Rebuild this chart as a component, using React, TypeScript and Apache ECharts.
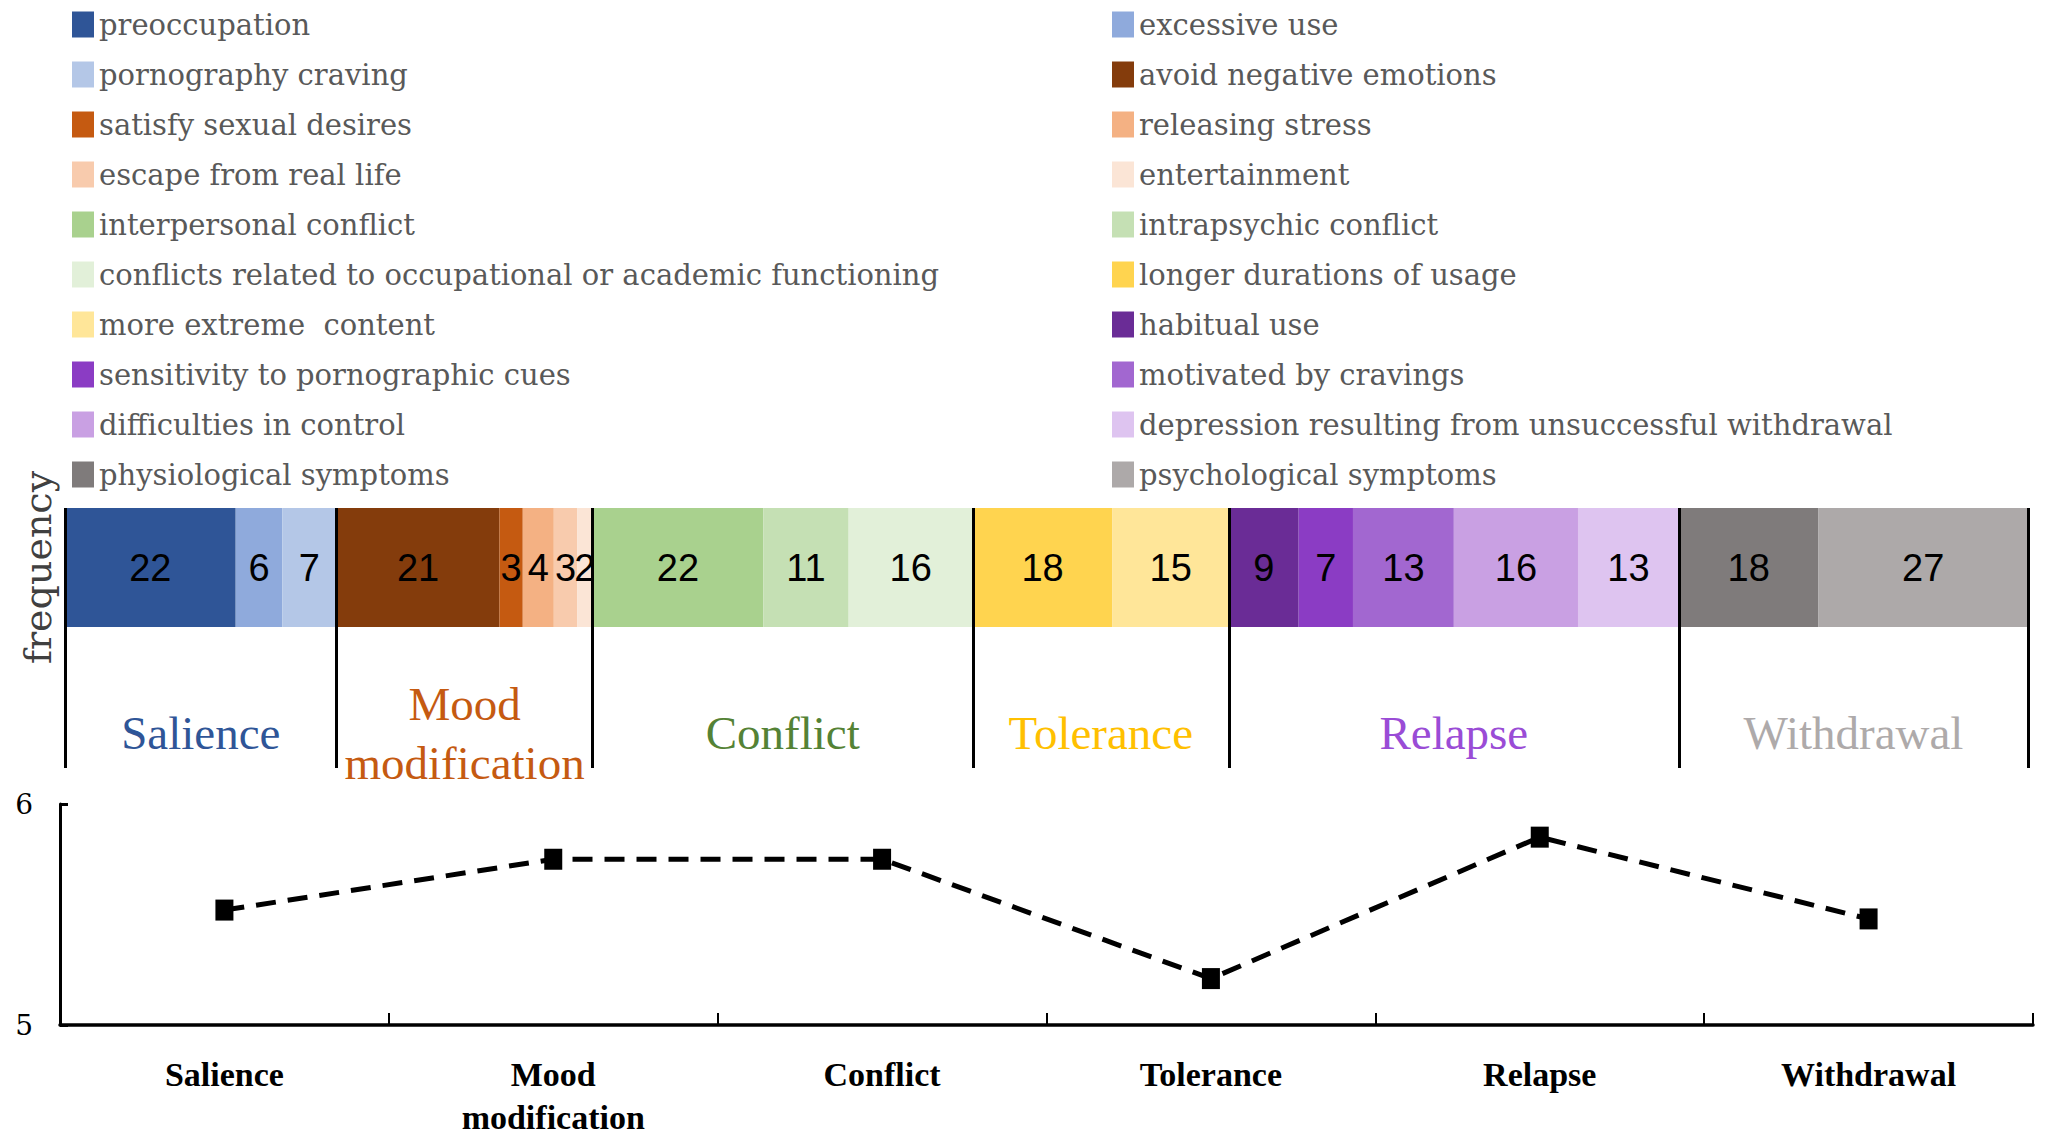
import React, { useEffect, useRef } from 'react'
import * as echarts from 'echarts'

// items in bar order (legend reads row by row, left column then right column)
const itemNames = [
  'preoccupation',
  'excessive use',
  'pornography craving',
  'avoid negative emotions',
  'satisfy sexual desires',
  'releasing stress',
  'escape from real life',
  'entertainment',
  'interpersonal conflict',
  'intrapsychic conflict',
  'conflicts related to occupational or academic functioning',
  'longer durations of usage',
  'more extreme  content',
  'habitual use',
  'sensitivity to pornographic cues',
  'motivated by cravings',
  'difficulties in control',
  'depression resulting from unsuccessful withdrawal',
  'physiological symptoms',
  'psychological symptoms',
]
const itemValues = [22, 6, 7, 21, 3, 4, 3, 2, 22, 11, 16, 18, 15, 9, 7, 13, 16, 13, 18, 27]
const itemColors = [
  '#2F5597', '#8FAADC', '#B4C7E7',
  '#843C0C', '#C55A11', '#F4B183', '#F8CBAD', '#FBE5D6',
  '#A9D18E', '#C5E0B4', '#E2F0D9',
  '#FFD44F', '#FFE699',
  '#6A2C96', '#8B3CC4', '#A267D0', '#C9A0E3', '#DEC4F0',
  '#7F7B7B', '#ADA9A9',
]

const groupNames = ['Salience', 'Mood\nmodification', 'Conflict', 'Tolerance', 'Relapse', 'Withdrawal']
const groupSizes = [3, 5, 3, 2, 5, 2]
const groupColors = ['#2F5597', '#C55A11', '#548235', '#FFC000', '#9A4CD6', '#AEAAAA']

const lineCategories = ['Salience', 'Mood\nmodification', 'Conflict', 'Tolerance', 'Relapse', 'Withdrawal']
const lineValues = [5.52, 5.75, 5.75, 5.21, 5.85, 5.48]

const SERIF = 'DejaVu Serif'
const TIMES = 'Liberation Serif'

const App = () => {
  const chartRef = useRef<HTMLDivElement>(null)

  useEffect(() => {
    if (!chartRef.current) return
    const chart = echarts.init(chartRef.current, null, { renderer: 'svg' })

    const total = itemValues.reduce((a, b) => a + b, 0)
    // group boundaries on the frequency axis
    const bounds: number[] = [0]
    let idx = 0
    groupSizes.forEach((n) => {
      let s = bounds[bounds.length - 1]
      for (let k = 0; k < n; k++) s += itemValues[idx++]
      bounds.push(s)
    })

    const dividerLine = {
      silent: true,
      symbol: 'none',
      label: { show: false },
      lineStyle: { color: '#000', width: 3, type: 'solid' },
      data: bounds.map((v) => ({ xAxis: v })),
    }

    const barSeries = itemNames.map((name, i) => ({
      name,
      type: 'bar',
      stack: 'freq',
      xAxisIndex: 0,
      yAxisIndex: 0,
      barWidth: '100%',
      data: [itemValues[i]],
      itemStyle: { color: itemColors[i] },
      label: {
        show: true,
        position: 'inside',
        color: '#000',
        fontFamily: 'Liberation Sans',
        fontSize: 38,
      },
      markLine: i === itemNames.length - 1 ? dividerLine : undefined,
    }))

    const legendBase = {
      orient: 'vertical',
      top: 10,
      itemWidth: 22,
      itemHeight: 26,
      itemGap: 21,
      icon: 'rect',
      padding: 0,
      selectedMode: false,
      textStyle: { fontFamily: SERIF, fontSize: 29, color: '#595959' },
    }

    const option = {
      animation: false,
      backgroundColor: '#fff',
      legend: [
        { ...legendBase, left: 72, data: itemNames.filter((_, i) => i % 2 === 0) },
        { ...legendBase, left: 1112, data: itemNames.filter((_, i) => i % 2 === 1) },
      ],
      grid: [
        { left: 65, right: 20, top: 508, height: 119 },
        { left: 65, right: 20, top: 627, height: 141 },
        { left: 60, right: 15, top: 804, height: 221 },
      ],
      xAxis: [
        { type: 'value', gridIndex: 0, min: 0, max: total, show: false },
        { type: 'value', gridIndex: 1, min: 0, max: total, show: false },
        {
          type: 'category',
          gridIndex: 2,
          data: lineCategories,
          boundaryGap: true,
          axisLine: { lineStyle: { color: '#000', width: 3.5 } },
          axisTick: { show: true, inside: true, length: 12, lineStyle: { color: '#000', width: 2 } },
          axisLabel: {
            color: '#000',
            fontFamily: TIMES,
            fontWeight: 'bold',
            fontSize: 34,
            lineHeight: 43,
            margin: 28,
          },
        },
      ],
      yAxis: [
        {
          type: 'category',
          gridIndex: 0,
          data: [''],
          axisLine: { show: false },
          axisTick: { show: false },
          axisLabel: { show: false },
          name: 'frequency',
          nameLocation: 'middle',
          nameRotate: 90,
          nameGap: 8,
          nameTextStyle: { fontFamily: SERIF, fontSize: 38, color: '#404040' },
        },
        { type: 'value', gridIndex: 1, min: 0, max: 1, show: false },
        {
          type: 'value',
          gridIndex: 2,
          min: 5,
          max: 6,
          interval: 1,
          splitLine: { show: false },
          axisLine: { show: true, lineStyle: { color: '#000', width: 3 } },
          axisTick: { show: true, inside: true, length: 8, lineStyle: { color: '#000', width: 3 } },
          axisLabel: { color: '#000', fontFamily: SERIF, fontSize: 28, margin: 27 },
        },
      ],
      series: [
        ...barSeries,
        {
          type: 'scatter',
          xAxisIndex: 1,
          yAxisIndex: 1,
          symbolSize: 0,
          silent: true,
          data: [[0, 0]],
          markLine: dividerLine,
          markArea: {
            silent: true,
            itemStyle: { color: 'transparent' },
            data: groupNames.map((g, i) => [
              {
                xAxis: bounds[i],
                name: g,
                label: {
                  show: true,
                  position: ['50%', 106],
                  align: 'center',
                  verticalAlign: 'middle',
                  color: groupColors[i],
                  fontFamily: TIMES,
                  fontSize: 47,
                  lineHeight: 59,
                },
              },
              { xAxis: bounds[i + 1] },
            ]),
          },
        },
        {
          type: 'line',
          xAxisIndex: 2,
          yAxisIndex: 2,
          data: lineValues,
          symbol: 'rect',
          symbolSize: [18, 21],
          itemStyle: { color: '#000' },
          lineStyle: { color: '#000', width: 5, type: [20, 12] },
        },
      ],
    }

    chart.setOption(option as echarts.EChartsOption)
    return () => {
      chart.dispose()
    }
  }, [])

  return (
    <div
      ref={chartRef}
      style={{ position: 'fixed', left: 0, top: 0, width: 2048, height: 1140, background: '#fff' }}
    />
  )
}

export default App
